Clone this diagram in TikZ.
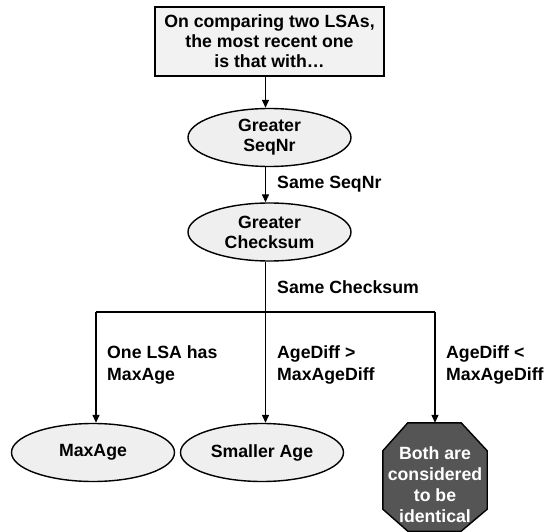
\documentclass[tikz,border=0pt]{standalone}
\usepackage{fontspec}
\setmainfont{Liberation Sans}
\usetikzlibrary{shapes.geometric,arrows.meta}
\definecolor{boxfill}{HTML}{F2F2F2}
\definecolor{ellfill}{HTML}{EFEFEF}
\definecolor{octfill}{HTML}{555555}
\begin{document}
\begin{tikzpicture}[x=1pt,y=-1pt,
  every node/.style={font=\fontsize{17.7}{20}\selectfont\bfseries},
  topbox/.style={draw, line width=2pt, fill=boxfill, minimum width=229pt, minimum height=69pt, align=center, inner sep=0pt},
  oval/.style={ellipse, draw, line width=1.4pt, fill=ellfill, minimum width=163pt, minimum height=58pt, align=center, inner sep=0pt},
  octframe/.style={minimum width=104pt, minimum height=108pt, inner sep=0pt},
  octline/.style={draw, line width=1.4pt, fill=octfill},
  lbl/.style={anchor=west, align=left, inner sep=0pt, font=\fontsize{17.7}{21.5}\selectfont\bfseries},
  conn/.style={line width=1.4pt},
  arr/.style={line width=1.4pt, -{Triangle[length=8pt,width=7pt]}}
]
\useasboundingbox (0,0) rectangle (547,532);

\node[topbox] (box) at (269.5,41.5) {On comparing two LSAs,\\the most recent one\\is that with\ldots};
\node[oval] (e1) at (269.5,137.5) {Greater\\SeqNr};
\node[oval] (e2) at (269.5,232) {Greater\\Checksum};
\node[oval] (ma) at (93,452.5) {MaxAge};
\node[oval] (sa) at (262,452.5) {Smaller Age};
\node[octframe] (oct) at (435,477) {};
\draw[octline] ([xshift=25pt]oct.north west) -- ([xshift=-26pt]oct.north east)
  -- ([yshift=-28pt]oct.north east) -- ([yshift=22pt]oct.south east)
  -- ([xshift=-26pt]oct.south east) -- ([xshift=25pt]oct.south west)
  -- ([yshift=22pt]oct.south west) -- ([yshift=-28pt]oct.north west) -- cycle;
\node[align=center, text=white, inner sep=0pt, font=\fontsize{17.7}{21}\selectfont\bfseries] (octtext) at (435,485) {Both are\\considered\\to be\\identical};

\coordinate (spine) at (265.5,312);
\coordinate (lb) at (96,312);
\coordinate (rb) at (435,312);

\draw[arr] (box.south -| spine) -- (e1.north -| spine);
\draw[arr] (e1.south -| spine) -- (e2.north -| spine);
\draw[conn] (e2.south -| spine) -- (spine);
\draw[conn] (lb) -- (rb);
\draw[arr] (lb) -- (ma.north -| lb);
\draw[arr] (spine) -- (sa.north -| spine);
\draw[arr] (rb) -- (oct.north);

\node[lbl] (l1) at (277,184) {Same SeqNr};
\node[lbl] (l2) at (277,287) {Same Checksum};
\node[lbl] (l3) at (107,365) {One LSA has\\MaxAge};
\node[lbl] (l4) at (277,365) {AgeDiff >\\MaxAgeDiff};
\node[lbl] (l5) at (446,365) {AgeDiff <\\MaxAgeDiff};
\end{tikzpicture}
\end{document}
